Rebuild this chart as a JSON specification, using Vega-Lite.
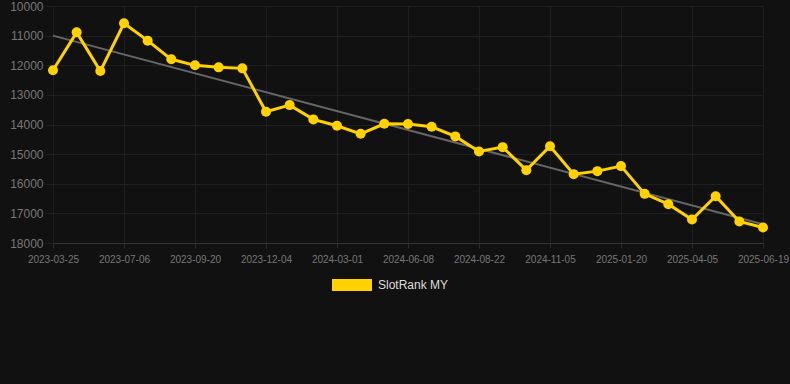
{
  "$schema": "https://vega.github.io/schema/vega-lite/v6.json",
  "width": 737,
  "height": 237,
  "autosize": {"type": "none"},
  "padding": {"left": 53, "top": 6, "right": 0, "bottom": 141},
  "background": "#111111",
  "config": {
    "view": {"stroke": null},
    "font": "Liberation Sans"
  },
  "datasets": {
    "rank": [
      {"date": "2023-03-25", "rank": 12170, "series": "SlotRank MY"},
      {"date": "2023-04-28", "rank": 10890, "series": "SlotRank MY"},
      {"date": "2023-06-01", "rank": 12196, "series": "SlotRank MY"},
      {"date": "2023-07-06", "rank": 10584, "series": "SlotRank MY"},
      {"date": "2023-07-31", "rank": 11170, "series": "SlotRank MY"},
      {"date": "2023-08-25", "rank": 11800, "series": "SlotRank MY"},
      {"date": "2023-09-20", "rank": 12003, "series": "SlotRank MY"},
      {"date": "2023-10-15", "rank": 12071, "series": "SlotRank MY"},
      {"date": "2023-11-09", "rank": 12105, "series": "SlotRank MY"},
      {"date": "2023-12-04", "rank": 13571, "series": "SlotRank MY"},
      {"date": "2024-01-02", "rank": 13345, "series": "SlotRank MY"},
      {"date": "2024-01-31", "rank": 13828, "series": "SlotRank MY"},
      {"date": "2024-03-01", "rank": 14044, "series": "SlotRank MY"},
      {"date": "2024-04-03", "rank": 14314, "series": "SlotRank MY"},
      {"date": "2024-05-06", "rank": 13976, "series": "SlotRank MY"},
      {"date": "2024-06-08", "rank": 13986, "series": "SlotRank MY"},
      {"date": "2024-07-03", "rank": 14078, "series": "SlotRank MY"},
      {"date": "2024-07-28", "rank": 14402, "series": "SlotRank MY"},
      {"date": "2024-08-22", "rank": 14909, "series": "SlotRank MY"},
      {"date": "2024-09-16", "rank": 14764, "series": "SlotRank MY"},
      {"date": "2024-10-11", "rank": 15541, "series": "SlotRank MY"},
      {"date": "2024-11-05", "rank": 14736, "series": "SlotRank MY"},
      {"date": "2024-11-30", "rank": 15676, "series": "SlotRank MY"},
      {"date": "2024-12-25", "rank": 15574, "series": "SlotRank MY"},
      {"date": "2025-01-20", "rank": 15405, "series": "SlotRank MY"},
      {"date": "2025-02-14", "rank": 16341, "series": "SlotRank MY"},
      {"date": "2025-03-11", "rank": 16689, "series": "SlotRank MY"},
      {"date": "2025-04-05", "rank": 17206, "series": "SlotRank MY"},
      {"date": "2025-04-30", "rank": 16419, "series": "SlotRank MY"},
      {"date": "2025-05-25", "rank": 17274, "series": "SlotRank MY"},
      {"date": "2025-06-19", "rank": 17476, "series": "SlotRank MY"}
    ],
    "trend": [
      {"date": "2023-03-25", "trend": 11000},
      {"date": "2025-06-19", "trend": 17370}
    ]
  },
  "layer": [
    {
      "data": {"name": "trend"},
      "mark": {"type": "line", "color": "#666666", "strokeWidth": 2},
      "encoding": {
        "x": {"field": "date", "type": "ordinal"},
        "y": {"field": "trend", "type": "quantitative"}
      }
    },
    {
      "data": {"name": "rank"},
      "mark": {"type": "line", "strokeWidth": 3, "color": "#FFD200"},
      "encoding": {
        "x": {"field": "date", "type": "ordinal"},
        "y": {"field": "rank", "type": "quantitative"}
      }
    },
    {
      "data": {"name": "rank"},
      "mark": {"type": "point", "filled": true, "opacity": 1, "size": 100},
      "encoding": {
        "x": {"field": "date", "type": "ordinal"},
        "y": {"field": "rank", "type": "quantitative"},
        "color": {
          "field": "series", "type": "nominal",
          "scale": {"domain": ["SlotRank MY"], "range": ["#FFD200"]},
          "legend": {
            "title": null,
            "orient": "none",
            "legendX": 279,
            "legendY": 259,
            "symbolType": "M-1,-0.3L1,-0.3L1,0.3L-1,0.3Z",
            "symbolSize": 1600,
            "symbolOpacity": 1,
            "symbolStrokeWidth": 0,
            "labelColor": "#dddddd",
            "labelFontSize": 12,
            "labelFont": "Liberation Sans",
            "labelOffset": 6
          }
        }
      }
    }
  ],
  "encoding": {
    "x": {
      "field": "date", "type": "ordinal",
      "scale": {"type": "point", "range": [0, 710], "padding": 0},
      "sort": "ascending",
      "axis": {
        "title": null,
        "values": ["2023-03-25", "2023-07-06", "2023-09-20", "2023-12-04", "2024-03-01", "2024-06-08", "2024-08-22", "2024-11-05", "2025-01-20", "2025-04-05", "2025-06-19"],
        "labelAngle": 0,
        "labelFontSize": 10,
        "labelColor": "#777777",
        "labelPadding": 6,
        "tickSize": 5,
        "tickColor": "#2a2a2a",
        "grid": true,
        "gridColor": "#1f1f1f",
        "domainColor": "#333333"
      }
    },
    "y": {
      "type": "quantitative",
      "scale": {"domain": [10000, 18000], "reverse": true, "nice": false, "zero": false},
      "axis": {
        "title": null,
        "values": [10000, 11000, 12000, 13000, 14000, 15000, 16000, 17000, 18000],
        "format": "d",
        "labelFontSize": 12,
        "labelColor": "#777777",
        "labelPadding": 2,
        "tickSize": 8,
        "tickColor": "#1f1f1f",
        "grid": true,
        "gridColor": "#1f1f1f",
        "domain": false
      }
    }
  }
}
